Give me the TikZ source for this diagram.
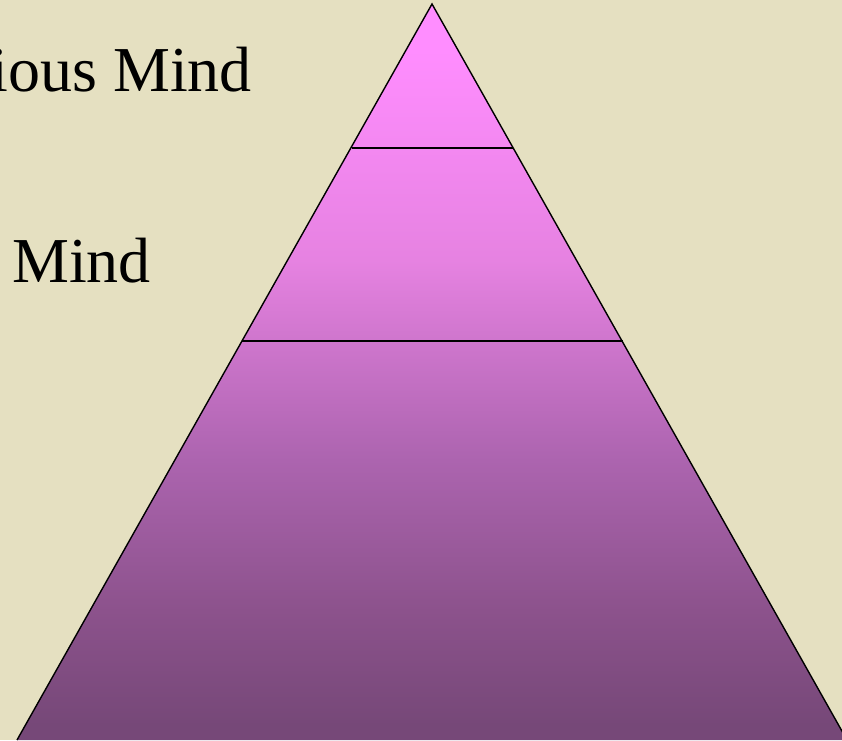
\documentclass[tikz,border=0pt]{standalone}
\usepackage{fontspec}
\setmainfont{Liberation Serif}
\definecolor{bgbeige}{RGB}{229,224,193}
\definecolor{pa}{RGB}{255,141,255}
\definecolor{pb}{RGB}{230,130,225}
\definecolor{pc}{RGB}{172,100,175}
\definecolor{pd}{RGB}{140,82,140}
\definecolor{pe}{RGB}{118,72,120}
\pgfdeclareverticalshading{pyr}{100bp}{color(0bp)=(pe); color(26bp)=(pe); color(33.8bp)=(pd); color(44bp)=(pc); color(57.6bp)=(pb); color(71.9bp)=(pa); color(100bp)=(pa)}
\tikzset{
  edge/.style={draw=black, line width=1.4pt},
  label/.style={inner sep=0pt, font=\fontsize{64}{72}\selectfont, text=black}
}
\begin{document}
\begin{tikzpicture}[x=1pt,y=1pt]
\fill[bgbeige] (0,0) rectangle (842,740);
\useasboundingbox (0,0) rectangle (842,740);
\coordinate (apex) at (432,736);
\coordinate (bl) at (17,0);
\coordinate (br) at (847,0);
\coordinate (l1) at (351.5,592);
\coordinate (r1) at (512.5,592);
\coordinate (l2) at (241.5,399);
\coordinate (r2) at (622.5,399);
\shade[shading=pyr] (apex) -- (br) -- (bl) -- cycle;
\draw[edge, line join=miter] (bl) -- (apex) -- (br);
\draw[edge] (l1) -- (r1);
\draw[edge] (l2) -- (r2);
\node[label, anchor=base east] (t1) at (252,648) {ious Mind};
\node[label, anchor=base west] (t2) at (12,457) {Mind};
\end{tikzpicture}
\end{document}
